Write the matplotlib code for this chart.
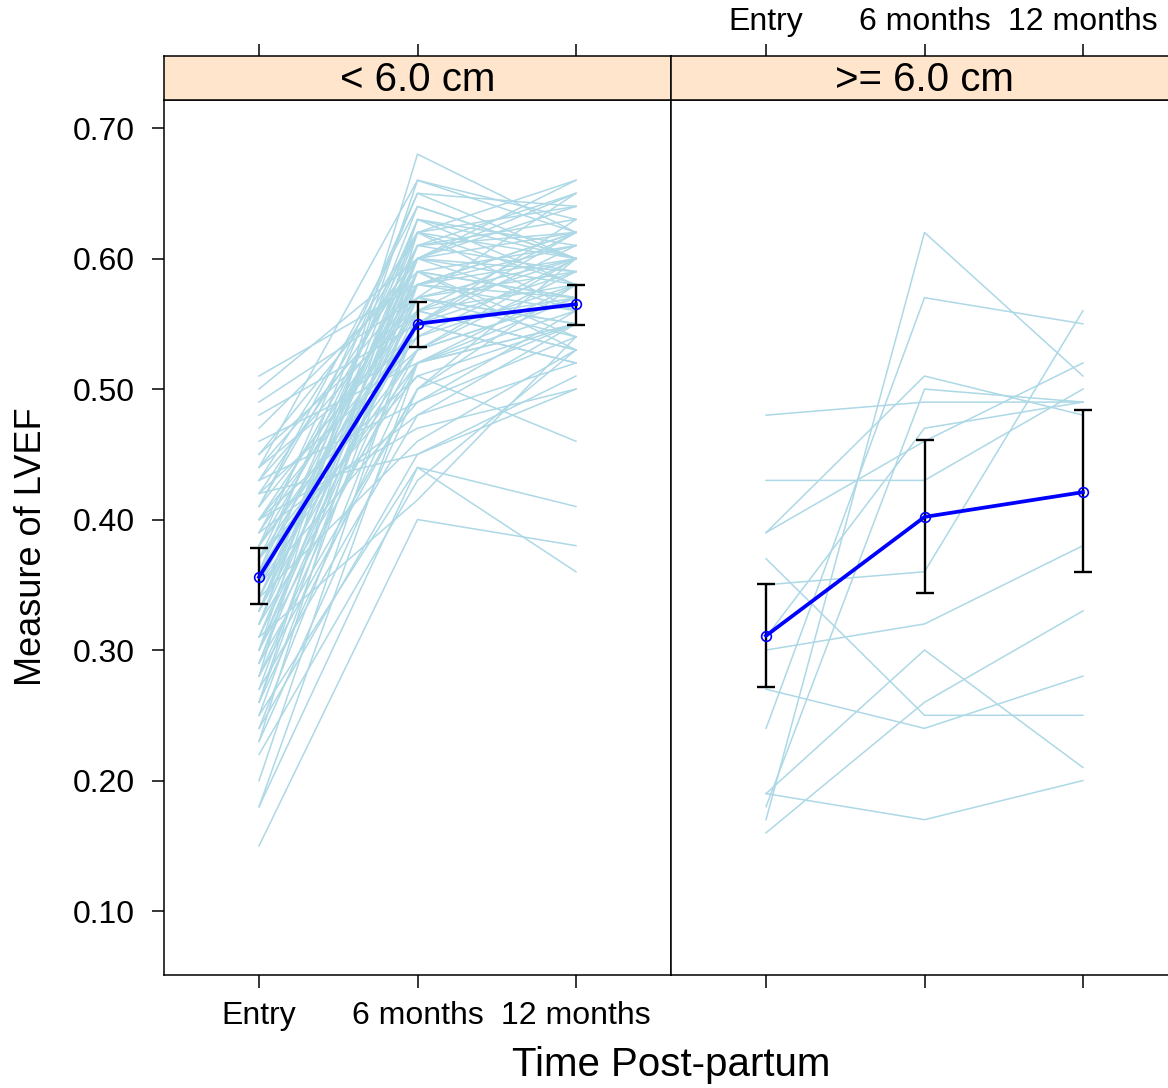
import matplotlib.pyplot as plt

plt.rcParams['font.family'] = ['Liberation Sans', 'DejaVu Sans']

time_labels = ['Entry', '6 months', '12 months']
panel_titles = ['< 6.0 cm', '>= 6.0 cm']
y_ticks = [0.10, 0.20, 0.30, 0.40, 0.50, 0.60, 0.70]

# LVEF per patient, LV diameter < 6.0 cm
small_entry = [0.51, 0.50, 0.49, 0.48, 0.47, 0.46, 0.45, 0.44, 0.44, 0.44,
               0.43, 0.43, 0.42, 0.42, 0.42, 0.41, 0.41, 0.40, 0.40, 0.40,
               0.40, 0.39, 0.39, 0.39, 0.38, 0.38, 0.38, 0.37, 0.37, 0.37,
               0.36, 0.36, 0.36, 0.35, 0.35, 0.35, 0.35, 0.34, 0.34, 0.34,
               0.33, 0.33, 0.33, 0.32, 0.32, 0.32, 0.31, 0.31, 0.30, 0.30,
               0.30, 0.29, 0.29, 0.28, 0.28, 0.27, 0.27, 0.26, 0.26, 0.25,
               0.25, 0.24, 0.24, 0.23, 0.23, 0.22, 0.20, 0.18, 0.18, 0.15,
               0.31, 0.29, 0.45, 0.43, 0.41, 0.38, 0.36, 0.34, 0.32, 0.30,
               0.28, 0.26, 0.37, 0.33]
small_6m = [0.58, 0.60, 0.57, 0.55, 0.59, 0.52, 0.56, 0.54, 0.58, 0.66,
            0.62, 0.49, 0.60, 0.53, 0.45, 0.56, 0.64, 0.58, 0.55, 0.51,
            0.47, 0.61, 0.57, 0.48, 0.65, 0.59, 0.54, 0.62, 0.56, 0.51,
            0.60, 0.55, 0.52, 0.63, 0.58, 0.53, 0.49, 0.61, 0.57, 0.46,
            0.64, 0.59, 0.55, 0.62, 0.58, 0.52, 0.60, 0.56, 0.66, 0.59,
            0.53, 0.61, 0.57, 0.68, 0.55, 0.60, 0.48, 0.63, 0.52, 0.58,
            0.44, 0.55, 0.45, 0.62, 0.50, 0.43, 0.56, 0.44, 0.52, 0.40,
            0.415, 0.50, 0.60, 0.57, 0.62, 0.55, 0.65, 0.60, 0.63, 0.57,
            0.50, 0.59, 0.53, 0.61]
small_12m = [0.60, 0.62, 0.55, 0.59, 0.57, 0.55, 0.53, 0.60, 0.62, 0.63,
             0.60, 0.56, 0.65, 0.57, 0.51, 0.53, 0.60, 0.57, 0.62, 0.55,
             0.50, 0.59, 0.54, 0.52, 0.64, 0.61, 0.58, 0.56, 0.60, 0.46,
             0.66, 0.57, 0.55, 0.58, 0.62, 0.59, 0.54, 0.63, 0.55, 0.53,
             0.60, 0.57, 0.61, 0.64, 0.56, 0.58, 0.59, 0.62, 0.62, 0.54,
             0.57, 0.65, 0.60, 0.62, 0.52, 0.58, 0.55, 0.60, 0.57, 0.61,
             0.41, 0.52, 0.50, 0.66, 0.55, 0.53, 0.58, 0.36, 0.56, 0.38,
             0.54, 0.60, 0.64, 0.59, 0.58, 0.63, 0.60, 0.56, 0.61, 0.65,
             0.58, 0.53, 0.60, 0.62]

# LVEF per patient, LV diameter >= 6.0 cm
large_entry = [0.48, 0.43, 0.39, 0.39, 0.37, 0.30, 0.27, 0.19, 0.19, 0.16,
               0.17, 0.24, 0.35, 0.31, 0.18]
large_6m = [0.49, 0.43, 0.51, 0.46, 0.25, 0.32, 0.24, 0.30, 0.17, 0.26,
            0.62, 0.57, 0.36, 0.47, 0.50]
large_12m = [0.49, 0.50, 0.48, 0.52, 0.25, 0.38, 0.28, 0.21, 0.20, 0.33,
             0.51, 0.55, 0.56, 0.49, 0.49]

# group means with 95% confidence limits
small_mean = [0.356, 0.550, 0.565]
small_lo = [0.335, 0.532, 0.549]
small_hi = [0.378, 0.567, 0.580]
large_mean = [0.311, 0.402, 0.421]
large_lo = [0.272, 0.344, 0.360]
large_hi = [0.351, 0.461, 0.484]

W, H = 1168, 1088
fig = plt.figure(figsize=(W / 100, H / 100), dpi=100)


def box(x0, y0, x1, y1):
    return [x0 / W, 1 - y1 / H, (x1 - x0) / W, (y1 - y0) / H]


x = [1, 2, 3]
panels = [
    (small_entry, small_6m, small_12m, small_mean, small_lo, small_hi),
    (large_entry, large_6m, large_12m, large_mean, large_lo, large_hi),
]
lefts = [164, 671]

for i, (e, m6, m12, mean, lo, hi) in enumerate(panels):
    x0 = lefts[i]
    ax = fig.add_axes(box(x0, 100, x0 + 507, 975))
    strip = fig.add_axes(box(x0, 56, x0 + 507, 100))

    for a, b, c in zip(e, m6, m12):
        ax.plot(x, [a, b, c], color='lightblue', lw=1.1, zorder=1)

    yerr = [[m - l for m, l in zip(mean, lo)], [h - m for m, h in zip(mean, hi)]]
    ax.errorbar(x, mean, yerr=yerr, fmt='none', ecolor='black',
                elinewidth=1.7, capsize=6.5, capthick=1.7, zorder=3)
    ax.plot(x, mean, color='blue', lw=2.7, marker='o', ms=7,
            mfc='none', mec='blue', mew=1.2, zorder=4)

    ax.set_xlim(0.4, 3.6)
    ax.set_ylim(0.051, 0.7215)
    ax.set_xticks(x)
    ax.tick_params(axis='both', direction='out', length=9, width=1.1,
                   labelsize=23, top=False, right=False)
    if i == 0:
        ax.set_xticklabels(time_labels)
        ax.set_yticks(y_ticks)
        ax.set_yticklabels([f'{v:.2f}' for v in y_ticks])
        ax.tick_params(axis='x', pad=10)
        ax.tick_params(axis='y', pad=12)
    else:
        ax.set_xticklabels([])
        ax.set_yticks([])
    for s in ax.spines.values():
        s.set_linewidth(1.1)

    # strip with panel title, top ticks sit on it
    strip.set_facecolor('#ffe5cc')
    strip.set_xlim(0.4, 3.6)
    strip.set_ylim(0, 1)
    strip.set_yticks([])
    strip.set_xticks(x)
    strip.tick_params(axis='x', direction='out', length=9, width=1.1,
                      bottom=False, labelbottom=False, top=True,
                      labeltop=(i == 1), labelsize=23, pad=5)
    if i == 1:
        strip.set_xticklabels(time_labels)
    for s in strip.spines.values():
        s.set_linewidth(1.1)
    strip.text(2, 0.45, panel_titles[i], ha='center', va='center', fontsize=29)

fig.text(671 / W, 1 - 1065 / H, 'Time Post-partum', ha='center', va='center',
         fontsize=29)
fig.text(32 / W, 1 - 547 / H, 'Measure of LVEF', ha='center', va='center',
         rotation=90, fontsize=26)

fig.savefig('out.png', dpi=100)
